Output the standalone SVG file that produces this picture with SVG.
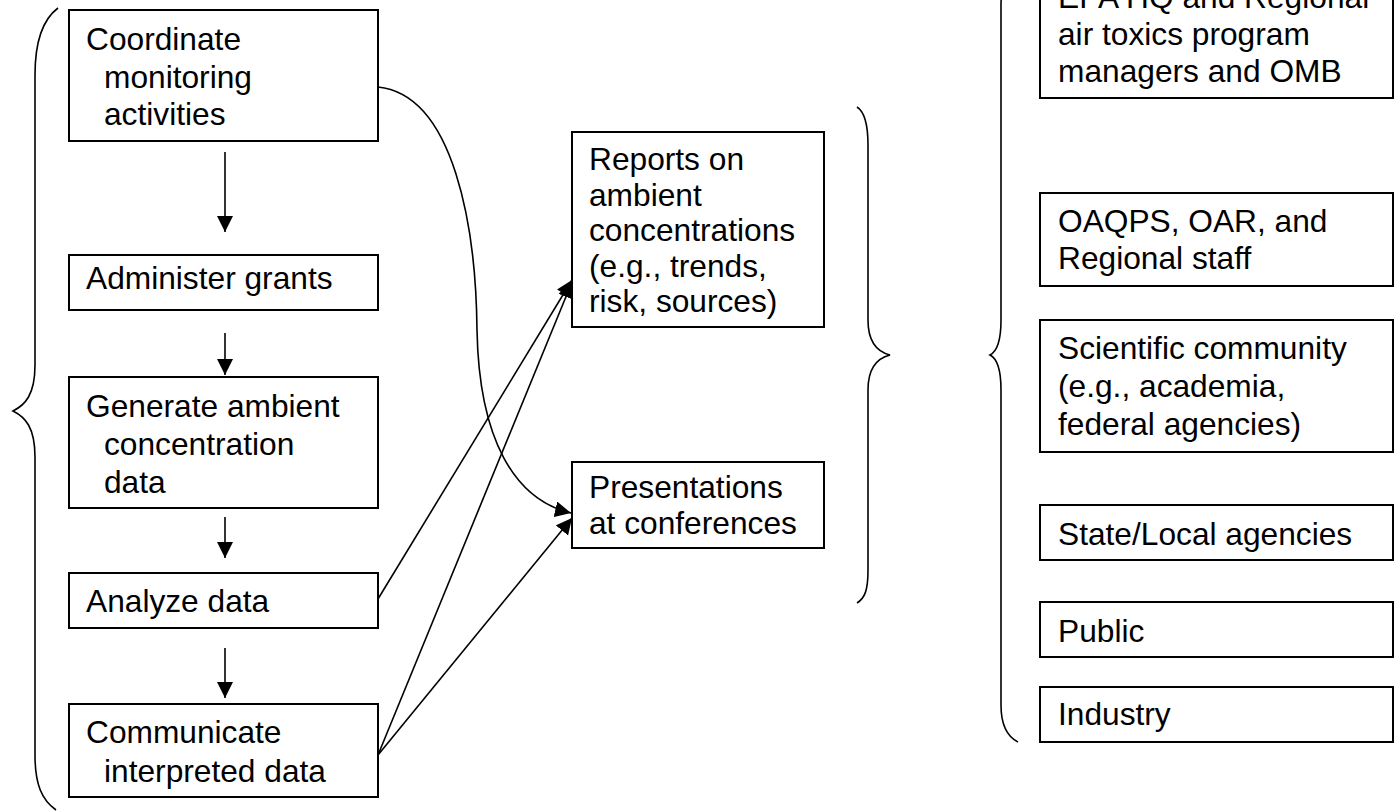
<svg xmlns="http://www.w3.org/2000/svg" width="1395" height="812" viewBox="0 0 1395 812">
<style>
.box{fill:#fff;stroke:#000;stroke-width:2}
.t{font-family:"Liberation Sans",Arial,sans-serif;font-size:31.7px;fill:#000}
.c{fill:none;stroke:#000;stroke-width:1.6}
.br{fill:none;stroke:#000;stroke-width:1.6}
</style>
<defs>
<marker id="ah" markerUnits="userSpaceOnUse" markerWidth="17" markerHeight="17" refX="16" refY="8" orient="auto">
<path d="M0,0 L16,8 L0,16 z" fill="#000"/>
</marker>
</defs>
<rect width="1395" height="812" fill="#fff"/>

<g id="brace-left"><path class="br" d="M58,8 C42,20 35,45 35,75 L35,365 C35,395 25,405 13,411 C25,417 35,427 35,457 L35,755 C35,785 42,800 56,810"/></g>
<g id="brace-middle"><path class="br" d="M857,107 C865,112 868,125 868,145 L868,320 C868,342 878,352 890,355 C878,358 868,368 868,390 L868,570 C868,590 865,598 857,603"/></g>
<g id="brace-right"><path class="br" d="M1018,-32 C1008,-27 1001,-15 1001,5 L1001,320 C1001,342 996,352 990,355 C996,358 1001,368 1001,390 L1001,705 C1001,725 1008,737 1018,742"/></g>

<g id="connectors">
<line class="c" x1="225" y1="152" x2="225" y2="232" marker-end="url(#ah)"/>
<line class="c" x1="225" y1="333" x2="225" y2="375" marker-end="url(#ah)"/>
<line class="c" x1="225" y1="517" x2="225" y2="558" marker-end="url(#ah)"/>
<line class="c" x1="225" y1="648" x2="225" y2="698" marker-end="url(#ah)"/>
<path class="c" d="M378,87 C455,95 476,230 477,330 C479,440 515,500 571,513" marker-end="url(#ah)"/>
<line class="c" x1="378" y1="599" x2="572" y2="280" marker-end="url(#ah)"/>
<line class="c" x1="378" y1="755" x2="572" y2="282" marker-end="url(#ah)"/>
<line class="c" x1="378" y1="755" x2="572" y2="518" marker-end="url(#ah)"/>
</g>

<g id="coordinate"><rect class="box" x="69" y="10" width="309" height="131"/>
<text class="t"><tspan x="86" y="50">Coordinate</tspan><tspan x="104" y="88">monitoring</tspan><tspan x="104" y="125">activities</tspan></text></g>
<g id="administer"><rect class="box" x="69" y="255" width="309" height="55"/>
<text class="t" x="86" y="289">Administer grants</text></g>
<g id="generate"><rect class="box" x="69" y="377" width="309" height="131"/>
<text class="t"><tspan x="86" y="417">Generate ambient</tspan><tspan x="104" y="455">concentration</tspan><tspan x="104" y="493">data</tspan></text></g>
<g id="analyze"><rect class="box" x="69" y="573" width="309" height="55"/>
<text class="t" x="86" y="612">Analyze data</text></g>
<g id="communicate"><rect class="box" x="69" y="704" width="309" height="93"/>
<text class="t"><tspan x="86" y="743">Communicate</tspan><tspan x="104" y="782">interpreted data</tspan></text></g>

<g id="reports"><rect class="box" x="572" y="132" width="252" height="195"/>
<text class="t"><tspan x="589" y="170">Reports on</tspan><tspan x="589" y="205.5">ambient</tspan><tspan x="589" y="241">concentrations</tspan><tspan x="589" y="276.5">(e.g., trends,</tspan><tspan x="589" y="312">risk, sources)</tspan></text></g>
<g id="presentations"><rect class="box" x="572" y="462" width="252" height="86"/>
<text class="t"><tspan x="589" y="498">Presentations</tspan><tspan x="589" y="534">at conferences</tspan></text></g>

<g id="epa"><rect class="box" x="1040" y="-40" width="353" height="138"/>
<text class="t"><tspan x="1058" y="8">EPA HQ and Regional</tspan><tspan x="1058" y="45">air toxics program</tspan><tspan x="1058" y="82">managers and OMB</tspan></text></g>
<g id="oaqps"><rect class="box" x="1040" y="193" width="353" height="93"/>
<text class="t"><tspan x="1058" y="232">OAQPS, OAR, and</tspan><tspan x="1058" y="269">Regional staff</tspan></text></g>
<g id="scientific"><rect class="box" x="1040" y="320" width="353" height="132"/>
<text class="t"><tspan x="1058" y="359">Scientific community</tspan><tspan x="1058" y="397">(e.g., academia,</tspan><tspan x="1058" y="435">federal agencies)</tspan></text></g>
<g id="state"><rect class="box" x="1040" y="505" width="353" height="55"/>
<text class="t" x="1058" y="545">State/Local agencies</text></g>
<g id="public"><rect class="box" x="1040" y="602" width="353" height="55"/>
<text class="t" x="1058" y="642">Public</text></g>
<g id="industry"><rect class="box" x="1040" y="687" width="353" height="55"/>
<text class="t" x="1058" y="725">Industry</text></g>
</svg>
